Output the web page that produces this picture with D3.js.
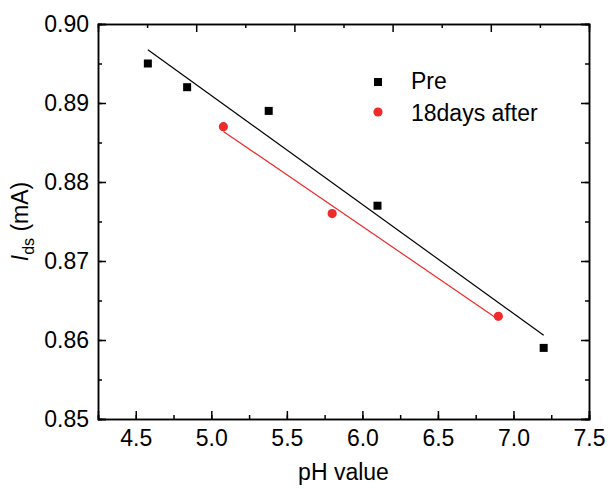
<!DOCTYPE html>
<html>
<head>
<meta charset="utf-8">
<script src="https://cdn.jsdelivr.net/npm/d3@7"></script>
<style>
  body { margin: 0; background: #fff; }
  text { font-family: Arial, "Liberation Sans", sans-serif; }
</style>
</head>
<body>
<script>
// Chart data
var preX = [4.58, 4.84, 5.38, 6.10, 7.20],
    preY = [0.895, 0.892, 0.889, 0.877, 0.859];
var afterX = [5.08, 5.80, 6.90],
    afterY = [0.887, 0.876, 0.863];
var xTicks = [4.5, 5.0, 5.5, 6.0, 6.5, 7.0, 7.5],
    yTicks = [0.85, 0.86, 0.87, 0.88, 0.89, 0.90];
var legendNames = ["Pre", "18days after"];

var width = 608, height = 489;
var margin = {left: 98, right: 19, top: 24, bottom: 70};
var fs = 23;

var svg = d3.select("body").append("svg")
    .attr("width", width)
    .attr("height", height);

var x = d3.scaleLinear().domain([4.25, 7.5]).range([margin.left, width - margin.right]);
var y = d3.scaleLinear().domain([0.85, 0.90]).range([height - margin.bottom, margin.top]);

// linear fit of a series, drawn over its own x span
function fit(xs, ys) {
    var mx = d3.mean(xs), my = d3.mean(ys);
    var sxy = d3.sum(xs, function(v, i) { return (v - mx) * (ys[i] - my); });
    var sxx = d3.sum(xs, function(v) { return (v - mx) * (v - mx); });
    var b = sxy / sxx;
    var x0 = d3.min(xs), x1 = d3.max(xs);
    return [[x0, my + b * (x0 - mx)], [x1, my + b * (x1 - mx)]];
}

var line = d3.line()
    .x(function(d) { return x(d[0]); })
    .y(function(d) { return y(d[1]); });

var red = "#ee2a2a";

// Axes (ticks point inward)
var minorX = d3.range(4.25, 7.5001, 0.25);
var minorY = d3.range(0.85, 0.9001, 0.005);

svg.append("g")
    .attr("transform", "translate(0," + y.range()[0] + ")")
    .call(d3.axisBottom(x).tickValues(minorX).tickSize(-4).tickFormat(""));
svg.append("g")
    .attr("class", "xaxis")
    .attr("transform", "translate(0," + y.range()[0] + ")")
    .call(d3.axisBottom(x).tickValues(xTicks).tickSize(-8).tickPadding(11)
        .tickFormat(d3.format(".1f")));

svg.append("g")
    .attr("transform", "translate(" + x.range()[0] + ",0)")
    .call(d3.axisLeft(y).tickValues(minorY).tickSize(-4).tickFormat(""));
svg.append("g")
    .attr("class", "yaxis")
    .attr("transform", "translate(" + x.range()[0] + ",0)")
    .call(d3.axisLeft(y).tickValues(yTicks).tickSize(-8).tickPadding(9)
        .tickFormat(d3.format(".2f")));

svg.append("g")
    .attr("transform", "translate(" + x.range()[1] + ",0)")
    .call(d3.axisRight(y).tickValues(minorY).tickSize(-4).tickFormat(""));
svg.append("g")
    .attr("transform", "translate(" + x.range()[1] + ",0)")
    .call(d3.axisRight(y).tickValues(yTicks).tickSize(-8).tickFormat(""));

// top axis divides the range into ten parts
var topTicks = d3.range(1, 10).map(function(i) { return 4.25 + i * 0.325; });
svg.append("g")
    .attr("transform", "translate(0," + y.range()[1] + ")")
    .call(d3.axisTop(x).tickValues(topTicks.filter(function(d, i) { return i % 2 == 0; }))
        .tickSize(-4).tickFormat(""));
svg.append("g")
    .attr("transform", "translate(0," + y.range()[1] + ")")
    .call(d3.axisTop(x).tickValues(topTicks.filter(function(d, i) { return i % 2 == 1; }))
        .tickSize(-8).tickFormat(""));

svg.selectAll(".domain").attr("stroke", "#000").attr("stroke-width", 1.5);
svg.selectAll(".tick line").attr("stroke", "#000").attr("stroke-width", 1.5);
svg.selectAll(".tick text").attr("font-size", fs).attr("fill", "#000")
    .attr("font-family", "Arial, 'Liberation Sans', sans-serif");

// Fit lines
svg.append("path")
    .datum(fit(preX, preY))
    .attr("d", line)
    .attr("fill", "none")
    .attr("stroke", "#000")
    .attr("stroke-width", 1.2);
svg.append("path")
    .datum(fit(afterX, afterY))
    .attr("d", line)
    .attr("fill", "none")
    .attr("stroke", red)
    .attr("stroke-width", 1.2);

// Points
var sq = 8;
svg.selectAll(".pre")
    .data(preX)
    .enter()
    .append("rect")
    .attr("class", "pre")
    .attr("x", function(d) { return x(d) - sq / 2; })
    .attr("y", function(d, i) { return y(preY[i]) - sq / 2; })
    .attr("width", sq)
    .attr("height", sq)
    .attr("fill", "#000");

svg.selectAll(".after")
    .data(afterX)
    .enter()
    .append("circle")
    .attr("class", "after")
    .attr("cx", function(d) { return x(d); })
    .attr("cy", function(d, i) { return y(afterY[i]); })
    .attr("r", 4.6)
    .attr("fill", red);

// Legend
var lg = svg.append("g").attr("transform", "translate(378,82)");
lg.append("rect").attr("x", -4).attr("y", -4).attr("width", 8).attr("height", 8).attr("fill", "#000");
lg.append("circle").attr("cx", 0).attr("cy", 30).attr("r", 4.6).attr("fill", red);
lg.selectAll("text")
    .data(legendNames)
    .enter()
    .append("text")
    .attr("x", 33)
    .attr("y", function(d, i) { return 7 + i * 32; })
    .attr("font-size", fs)
    .text(function(d) { return d; });

// Axis titles
svg.append("text")
    .attr("x", (x.range()[0] + x.range()[1]) / 2)
    .attr("y", 480)
    .attr("text-anchor", "middle")
    .attr("font-size", fs)
    .text("pH value");

var yl = svg.append("text")
    .attr("transform", "translate(28," + ((y.range()[0] + y.range()[1]) / 2) + ") rotate(-90)")
    .attr("text-anchor", "middle")
    .attr("font-size", fs);
yl.append("tspan").attr("font-style", "italic").text("I");
yl.append("tspan").attr("font-size", 16).attr("dy", 6).text("ds");
yl.append("tspan").attr("dy", -6).text(" (mA)");
</script>
</body>
</html>
